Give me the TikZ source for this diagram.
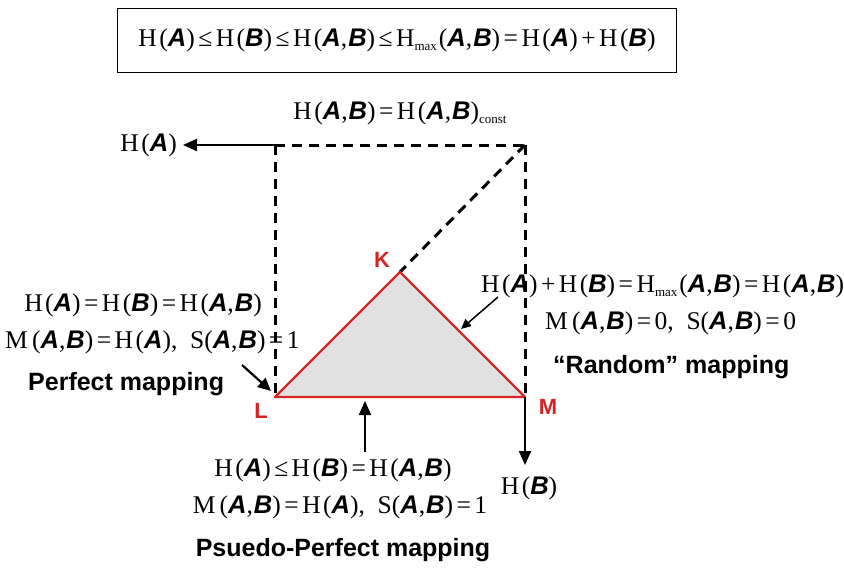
\documentclass[tikz,border=0pt]{standalone}
\usepackage{fontspec}
\setmainfont{Liberation Serif}
\setsansfont{Liberation Sans}
\usetikzlibrary{arrows.meta}
\newcommand\vA{{\sffamily\bfseries\itshape A}}
\newcommand\vB{{\sffamily\bfseries\itshape B}}
\newcommand\vAB{\vA,\kern1pt\vB}
\newcommand\HH{H\kern2.5pt}
\newcommand\op[1]{\kern3.5pt#1\kern3.5pt}
\newcommand\subsc[1]{\raisebox{-0.35ex}{\fontsize{13}{13}\selectfont #1}}
\definecolor{tred}{RGB}{215,35,35}
\definecolor{tgray}{RGB}{225,225,225}
\begin{document}
\begin{tikzpicture}[x=1pt,y=-1pt,
  txt/.style={font=\fontsize{25.5}{30}\selectfont, inner sep=0pt},
  lbl/.style={font=\fontsize{25}{29}\selectfont\sffamily\bfseries, inner sep=0pt},
  vtx/.style={font=\fontsize{22}{26}\selectfont\sffamily\bfseries, text=tred, inner sep=0pt},
  dsh/.style={line width=3pt, dash pattern=on 10pt off 7pt},
  bigarrow/.style={line width=2.2pt, -{Triangle[length=14pt,width=12pt]}},
  thinarrow/.style={line width=1.5pt, -{Triangle[length=10pt,width=9pt]}}]
\useasboundingbox (0,0) rectangle (844,570);
% top box
\node[txt, draw, line width=1pt, minimum width=559pt, minimum height=64pt] (eq) at (397,40)
  {\HH(\vA)\op{≤}\HH(\vB)\op{≤}\HH(\vAB)\op{≤}H\subsc{max}\kern2pt(\vAB)\op{=}\HH(\vA)\op{+}\HH(\vB)};
% corners
\coordinate (TL) at (275,145);
\coordinate (TR) at (525,145);
\coordinate (L) at (275,397);
\coordinate (K) at (400,272);
\coordinate (M) at (525,397);
\coordinate (HAend) at (183,145);
\coordinate (HBend) at (525,465);
% triangle
\fill[tgray] (L) -- (K) -- (M) -- cycle;
% dashed
\draw[dsh] (TL) -- (TR);
\draw[dsh] (TL) -- (L);
\draw[dsh] (TR) -- (M);
\draw[dsh] (TR) -- (K);
\draw[tred, line width=2.4pt, line join=round] (L) -- (K) -- (M) -- cycle;
% axes arrows
\draw[bigarrow] (TL) -- (HAend);
\draw[bigarrow] (M) -- (HBend);
\node[txt, anchor=east] (HA) at (177,145) {\HH(\vA)};
\node[txt] (HB) at (529,488) {\HH(\vB)};
\node[txt] (const) at (400,113) {\HH(\vAB)\op{=}\HH(\vAB)\subsc{const}};
% vertex labels
\node[vtx] (Kl) at (382,260) {K};
\node[vtx] (Ll) at (261,411) {L};
\node[vtx] (Ml) at (548,407) {M};
% left texts
\node[txt] (l1) at (143,305) {\HH(\vA)\op{=}\HH(\vB)\op{=}\HH(\vAB)};
\node[txt, anchor=west] (l2) at (5,342) {M\,(\vAB)\op{=}\HH(\vA),\enspace S(\vAB)\op{=}1};
\node[lbl, anchor=west] (l3) at (28,384) {Perfect mapping};
\coordinate (pa1) at (242,365);
\coordinate (pa2) at (271,391);
\draw[bigarrow, -{Triangle[length=13pt,width=12pt]}] (pa1) -- (pa2);
% right texts
\node[txt, anchor=west] (r1) at (481,286) {\HH(\vA)\op{+}\HH(\vB)\op{=}H\subsc{max}\kern2pt(\vAB)\op{=}\HH(\vAB)};
\node[txt, anchor=west] (r2) at (545,323) {M\,(\vAB)\op{=}0,\enspace S(\vAB)\op{=}0};
\node[lbl, anchor=west] (r3) at (553,367) {“Random” mapping};
\coordinate (ra1) at (498,297);
\coordinate (ra2) at (461,329);
\draw[thinarrow] (ra1) -- (ra2);
% bottom texts
\coordinate (ba1) at (365,452);
\coordinate (ba2) at (365,401);
\draw[bigarrow] (ba1) -- (ba2);
\node[txt] (b1) at (333,470) {\HH(\vA)\op{≤}\HH(\vB)\op{=}\HH(\vAB)};
\node[txt] (b2) at (340,507) {M\,(\vAB)\op{=}\HH(\vA),\enspace S(\vAB)\op{=}1};
\node[lbl] (b3) at (343,550) {Psuedo-Perfect mapping};
\end{tikzpicture}
\end{document}
